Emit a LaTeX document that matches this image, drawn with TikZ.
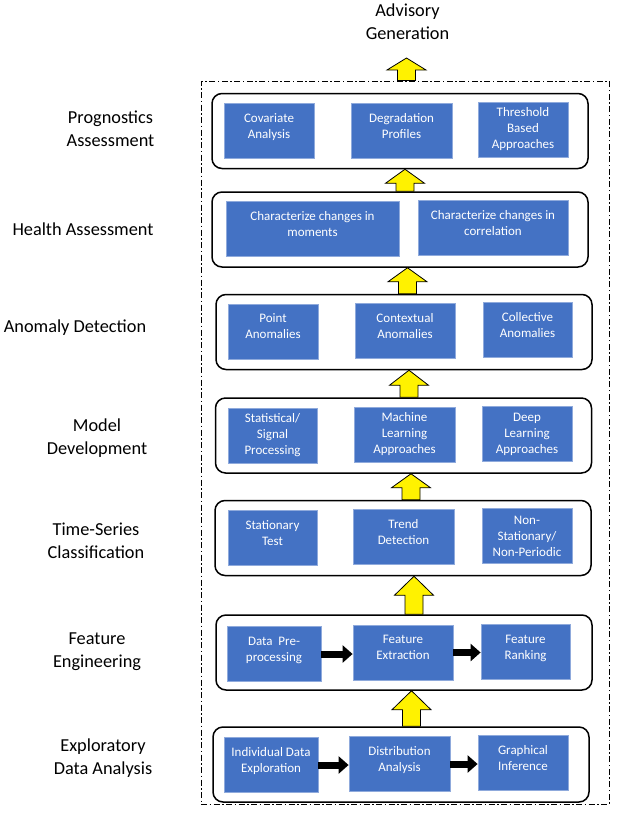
\documentclass[tikz,border=0pt]{standalone}
\usepackage{fontspec}
\setmainfont{Carlito}
\usepackage{xcolor}
\usepackage{tikz}
\usetikzlibrary{arrows.meta,calc}

\definecolor{boxblue}{HTML}{4472C4}
\definecolor{boxedge}{HTML}{8FAADC}

% block arrow between two layers: lower, upper, centre x, head length
\newcommand{\yarrow}[4]{%
  \path[yarrow] let \p1=#1, \p2=#2 in
    (#3pt-9pt,\y1) -- (#3pt-9pt,\y2-#4pt) -- (#3pt-19.5pt,\y2-#4pt) -- (#3pt,\y2)
    -- (#3pt+19.5pt,\y2-#4pt) -- (#3pt+9pt,\y2-#4pt) -- (#3pt+9pt,\y1) -- cycle;}

\begin{document}
\begin{tikzpicture}[
    x=1pt, y=-1pt,
    box/.style={rectangle, fill=boxblue, draw=boxedge, line width=0.8pt, text=white, align=center, inner sep=2pt, minimum height=55pt, font=\fontsize{13}{16}\selectfont},
    twoline/.style={text depth=10pt},
    panel/.style={rectangle, draw, line width=1.5pt, rounded corners=10pt, minimum width=376pt, minimum height=75pt},
    lbl/.style={align=center, font=\fontsize{18.3}{23}\selectfont},
    dashframe/.style={draw, line width=1pt, dash pattern=on 6pt off 2.5pt on 1.5pt off 2.5pt},
    yarrow/.style={fill=yellow, draw=black, line width=0.8pt},
    blkarrow/.style={-{Triangle[length=10pt,width=17pt]}, line width=7pt}
]
\useasboundingbox (0,0) rectangle (624,817);

% Outer frame and output
\node[dashframe, minimum width=408pt, minimum height=723pt] (frame) at (405,442.5) {};
\node[lbl] (adv) at (407.5,21.5) {Advisory\\Generation};
\coordinate (advtip) at (406.5,58);

% Prognostics Assessment Layer
\node[panel] (prog) at (400,131) {};
\node[box, twoline, minimum width=90pt] (cov) at (269,131) {Covariate\\Analysis};
\node[box, twoline, minimum width=101pt] (deg) at (401.5,130.5) {Degradation\\Profiles};
\node[box, minimum width=90pt] (thr) at (523,129.5) {Threshold\\Based\\Approaches};
\node[lbl] (lprog) at (110.5,128.5) {Prognostics\\Assessment};

% Health Assessment Layer
\node[panel] (hlth) at (400,229.5) {};
\node[box, twoline, minimum width=173pt] (mom) at (312.5,228.5) {Characterize changes in\\moments};
\node[box, twoline, minimum width=150pt] (cor) at (493,227.5) {Characterize changes in\\correlation};
\node[lbl] (lhlth) at (83,229) {Health Assessment};

% Anomaly Detection Layer
\node[panel] (anom) at (404,332) {};
\node[box, twoline, minimum width=90pt] (pnt) at (273,331.5) {Point\\Anomalies};
\node[box, twoline, minimum width=100pt] (ctx) at (405,330.5) {Contextual\\Anomalies};
\node[box, twoline, minimum width=89pt] (col) at (527.5,329.5) {Collective\\Anomalies};
\node[lbl] (lanom) at (75,328) {Anomaly Detection};

% Model Development Layer
\node[panel] (modl) at (403.5,435.5) {};
\node[box, minimum width=89pt] (stat) at (272.5,435.5) {Statistical/\\Signal\\Processing};
\node[box, minimum width=101pt] (ml) at (404.5,434.5) {Machine\\Learning\\Approaches};
\node[box, minimum width=90pt] (dl) at (527,434) {Deep\\Learning\\Approaches};
\node[lbl] (lmodl) at (97,438.5) {Model\\Development};

% Time-Series Classification Layer
\node[panel] (tscl) at (403,538) {};
\node[box, twoline, minimum width=89pt] (stt) at (272.5,538) {Stationary\\Test};
\node[box, twoline, minimum width=101pt] (trd) at (403.5,537) {Trend\\Detection};
\node[box, minimum width=90pt] (nst) at (527,536) {Non-\\Stationary/\\Non-Periodic};
\node[lbl] (ltscl) at (96,541) {Time-Series\\Classification};

% Feature Engineering Layer
\node[panel] (feng) at (404,652.5) {};
\node[box, twoline, minimum width=94pt] (dp) at (274,654) {Data~ Pre-\\processing};
\node[box, twoline, minimum width=100pt] (fx) at (403,652.5) {Feature\\Extraction};
\node[box, twoline, minimum width=89pt] (fr) at (525.5,652) {Feature\\Ranking};
\node[lbl] (lfeng) at (97,651.5) {Feature\\Engineering};

% Exploratory Data Analysis Layer
\node[panel] (eda) at (401,764.5) {};
\node[box, twoline, minimum width=94pt] (ide) at (271,765) {Individual Data\\Exploration};
\node[box, twoline, minimum width=101pt] (dis) at (399.5,764) {Distribution\\Analysis};
\node[box, twoline, minimum width=90pt] (gri) at (523,763) {Graphical\\Inference};
\node[lbl] (leda) at (103,758.5) {Exploratory\\Data Analysis};

% Arrows
\draw[blkarrow] (dp.east) -- (dp.east -| fx.west);
\draw[blkarrow] (fx.east) -- (fx.east -| fr.west);
\draw[blkarrow] (ide.east) -- (ide.east -| dis.west);
\draw[blkarrow] (dis.east) -- (dis.east -| gri.west);

\yarrow{(frame.north)}{(advtip)}{406.5}{12}
\yarrow{(hlth.north)}{(prog.south)}{405}{14}
\yarrow{(anom.north)}{(hlth.south)}{407.5}{14}
\yarrow{(modl.north)}{(anom.south)}{409}{15}
\yarrow{(tscl.north)}{(modl.south)}{411}{14}
\yarrow{(feng.north)}{(tscl.south)}{414}{19}
\yarrow{(eda.north)}{(feng.south)}{411.5}{19}

\end{tikzpicture}
\end{document}
